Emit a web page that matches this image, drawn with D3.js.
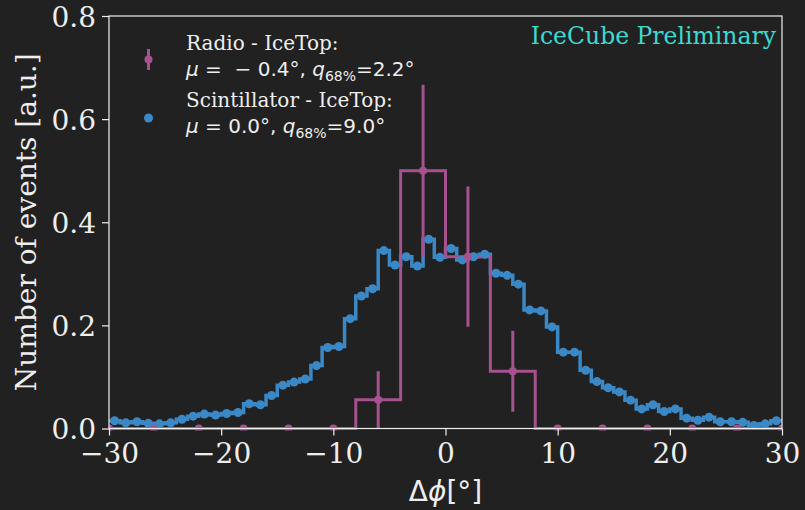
<!DOCTYPE html>
<html>
<head>
<meta charset="utf-8">
<script src="https://cdn.jsdelivr.net/npm/d3@7"></script>
<style>
  html, body { margin: 0; padding: 0; background: #212121; }
  svg { display: block; }
</style>
</head>
<body>
<svg id="chart"></svg>
<script>
// Scintillator - IceTop, 1 degree bins from -30 to 30
const sciEdgeStart = -30;
const sciBinWidth = 1;
const sciValues = [
  0.015, 0.011, 0.013, 0.010, 0.009, 0.011, 0.018, 0.024, 0.028, 0.026,
  0.029, 0.031, 0.048, 0.046, 0.064, 0.084, 0.090, 0.096, 0.122, 0.157,
  0.159, 0.213, 0.257, 0.271, 0.345, 0.317, 0.333, 0.315, 0.367, 0.332,
  0.349, 0.327, 0.333, 0.338, 0.301, 0.297, 0.280, 0.230, 0.228, 0.197,
  0.148, 0.148, 0.113, 0.091, 0.079, 0.071, 0.055, 0.038, 0.046, 0.033,
  0.038, 0.020, 0.016, 0.022, 0.013, 0.013, 0.012, 0.006, 0.009, 0.015
];

// Radio - IceTop, 4 degree bins from -32 to 32
const radioEdgeStart = -32;
const radioBinWidth = 4;
const radioValues = [0, 0, 0, 0, 0, 0, 0.0556, 0.5, 0.3333, 0.1111, 0, 0, 0, 0, 0, 0];
const radioErrors = [0, 0, 0, 0, 0, 0, 0.0556, 0.1667, 0.1361, 0.0786, 0, 0, 0, 0, 0, 0];

const xTicks = [-30, -20, -10, 0, 10, 20, 30];
const yTicks = [0.0, 0.2, 0.4, 0.6, 0.8];

const width = 805;
const height = 510;
const margin = {left: 109, right: 23, top: 16, bottom: 81.5};

const bg = "#212121";
const fg = "#eeeeee";
const blue = "#3b88c6";
const pink = "#a6528f";

const svg = d3.select("#chart")
    .attr("width", width)
    .attr("height", height)
    .style("background", bg);

const x = d3.scaleLinear().domain([-30, 30]).range([margin.left, width - margin.right]);
const y = d3.scaleLinear().domain([0, 0.8]).range([height - margin.bottom, margin.top]);

svg.append("defs").append("clipPath").attr("id", "plot-clip")
    .append("rect")
    .attr("x", x(-30)).attr("y", y(0.8) - 2)
    .attr("width", x(30) - x(-30)).attr("height", y(0) - y(0.8) + 4);

// build step points from edges
function stepPoints(start, w, vals) {
    const pts = vals.map((v, i) => [start + i * w, v]);
    pts.push([start + vals.length * w, vals[vals.length - 1]]);
    return pts;
}

const stepLine = d3.line()
    .x(d => x(d[0]))
    .y(d => y(d[1]))
    .curve(d3.curveStepAfter);

const plot = svg.append("g").attr("clip-path", "url(#plot-clip)");

// scintillator step
plot.append("path")
    .datum(stepPoints(sciEdgeStart, sciBinWidth, sciValues))
    .attr("fill", "none")
    .attr("stroke", blue)
    .attr("stroke-width", 3.5)
    .attr("d", stepLine);

// radio step
plot.append("path")
    .datum(stepPoints(radioEdgeStart, radioBinWidth, radioValues))
    .attr("fill", "none")
    .attr("stroke", pink)
    .attr("stroke-width", 3)
    .attr("d", stepLine);

// scintillator points
plot.append("g")
    .selectAll("circle")
    .data(sciValues)
    .join("circle")
    .attr("cx", (d, i) => x(sciEdgeStart + (i + 0.5) * sciBinWidth))
    .attr("cy", d => y(d))
    .attr("r", 4.5)
    .attr("fill", blue);

// radio error bars and points
const radioData = radioValues.map((v, i) => ({
    c: radioEdgeStart + (i + 0.5) * radioBinWidth, v: v, e: radioErrors[i]
}));

plot.append("g")
    .selectAll("line")
    .data(radioData.filter(d => d.e > 0))
    .join("line")
    .attr("x1", d => x(d.c)).attr("x2", d => x(d.c))
    .attr("y1", d => y(d.v - d.e)).attr("y2", d => y(d.v + d.e))
    .attr("stroke", pink)
    .attr("stroke-width", 3);

plot.append("g")
    .selectAll("circle")
    .data(radioData)
    .join("circle")
    .attr("cx", d => x(d.c))
    .attr("cy", d => y(d.v))
    .attr("r", 4)
    .attr("fill", pink);

// spines
svg.append("rect")
    .attr("x", x(-30)).attr("y", y(0.8))
    .attr("width", x(30) - x(-30)).attr("height", y(0) - y(0.8))
    .attr("fill", "none")
    .attr("stroke", fg)
    .attr("stroke-width", 1.2);

// axes
const xAxis = svg.append("g")
    .attr("transform", `translate(0,${y(0)})`)
    .call(d3.axisBottom(x).tickValues(xTicks).tickSize(7).tickPadding(6).tickFormat(d3.format("d")));
const yAxis = svg.append("g")
    .attr("transform", `translate(${x(-30)},0)`)
    .call(d3.axisLeft(y).tickValues(yTicks).tickSize(7).tickPadding(6).tickFormat(d3.format(".1f")));

[xAxis, yAxis].forEach(a => {
    a.select(".domain").remove();
    a.selectAll(".tick line").attr("stroke", fg).attr("stroke-width", 1.2);
    a.selectAll(".tick text")
        .attr("fill", fg)
        .style("font-family", "'DejaVu Serif'")
        .style("font-size", "28px");
});
xAxis.selectAll(".tick text").attr("dy", "0.78em");
yAxis.selectAll(".tick text").attr("dy", "0.36em");

// axis labels
const xlab = svg.append("text")
    .attr("x", (x(-30) + x(30)) / 2)
    .attr("y", 501)
    .attr("text-anchor", "middle")
    .attr("fill", fg)
    .style("font-family", "'DejaVu Sans'")
    .style("font-size", "28px");
xlab.append("tspan").text("Δ");
xlab.append("tspan").style("font-style", "italic").text("ϕ");
xlab.append("tspan").text("[°]");

svg.append("text")
    .attr("transform", `translate(36,${(y(0) + y(0.8)) / 2}) rotate(-90)`)
    .attr("text-anchor", "middle")
    .attr("fill", fg)
    .style("font-family", "'DejaVu Serif'")
    .style("font-size", "28px")
    .text("Number of events [a.u.]");

// IceCube Preliminary
svg.append("text")
    .attr("x", 776)
    .attr("y", 44)
    .attr("text-anchor", "end")
    .attr("fill", "#3ed8d0")
    .style("font-family", "'DejaVu Serif'")
    .style("font-size", "23.5px")
    .text("IceCube Preliminary");

// legend
const legend = svg.append("g");
legend.append("line")
    .attr("x1", 148.5).attr("x2", 148.5)
    .attr("y1", 49).attr("y2", 70)
    .attr("stroke", pink).attr("stroke-width", 3);
legend.append("circle")
    .attr("cx", 148.5).attr("cy", 59.5).attr("r", 4).attr("fill", pink);
legend.append("circle")
    .attr("cx", 148.5).attr("cy", 118).attr("r", 4.5).attr("fill", blue);

function legendEntry(yTitle, title, mu, q) {
    legend.append("text")
        .attr("x", 186).attr("y", yTitle)
        .attr("fill", fg)
        .style("font-family", "'DejaVu Serif'")
        .style("font-size", "20px")
        .text(title);
    const t = legend.append("text")
        .attr("x", 186).attr("y", yTitle + 26)
        .attr("fill", fg)
        .style("font-family", "'DejaVu Sans'")
        .style("font-size", "20px")
        .attr("xml:space", "preserve")
        .style("white-space", "pre");
    t.append("tspan").style("font-style", "italic").text("μ");
    t.append("tspan").text(mu + ", ");
    t.append("tspan").style("font-style", "italic").text("q");
    t.append("tspan").attr("dy", 5).style("font-size", "14px").text("68%");
    t.append("tspan").attr("dy", -5).text("=" + q);
}
legendEntry(50, "Radio - IceTop:", " =  − 0.4°", "2.2°");
legendEntry(107, "Scintillator - IceTop:", " = 0.0°", "9.0°");
</script>
</body>
</html>
